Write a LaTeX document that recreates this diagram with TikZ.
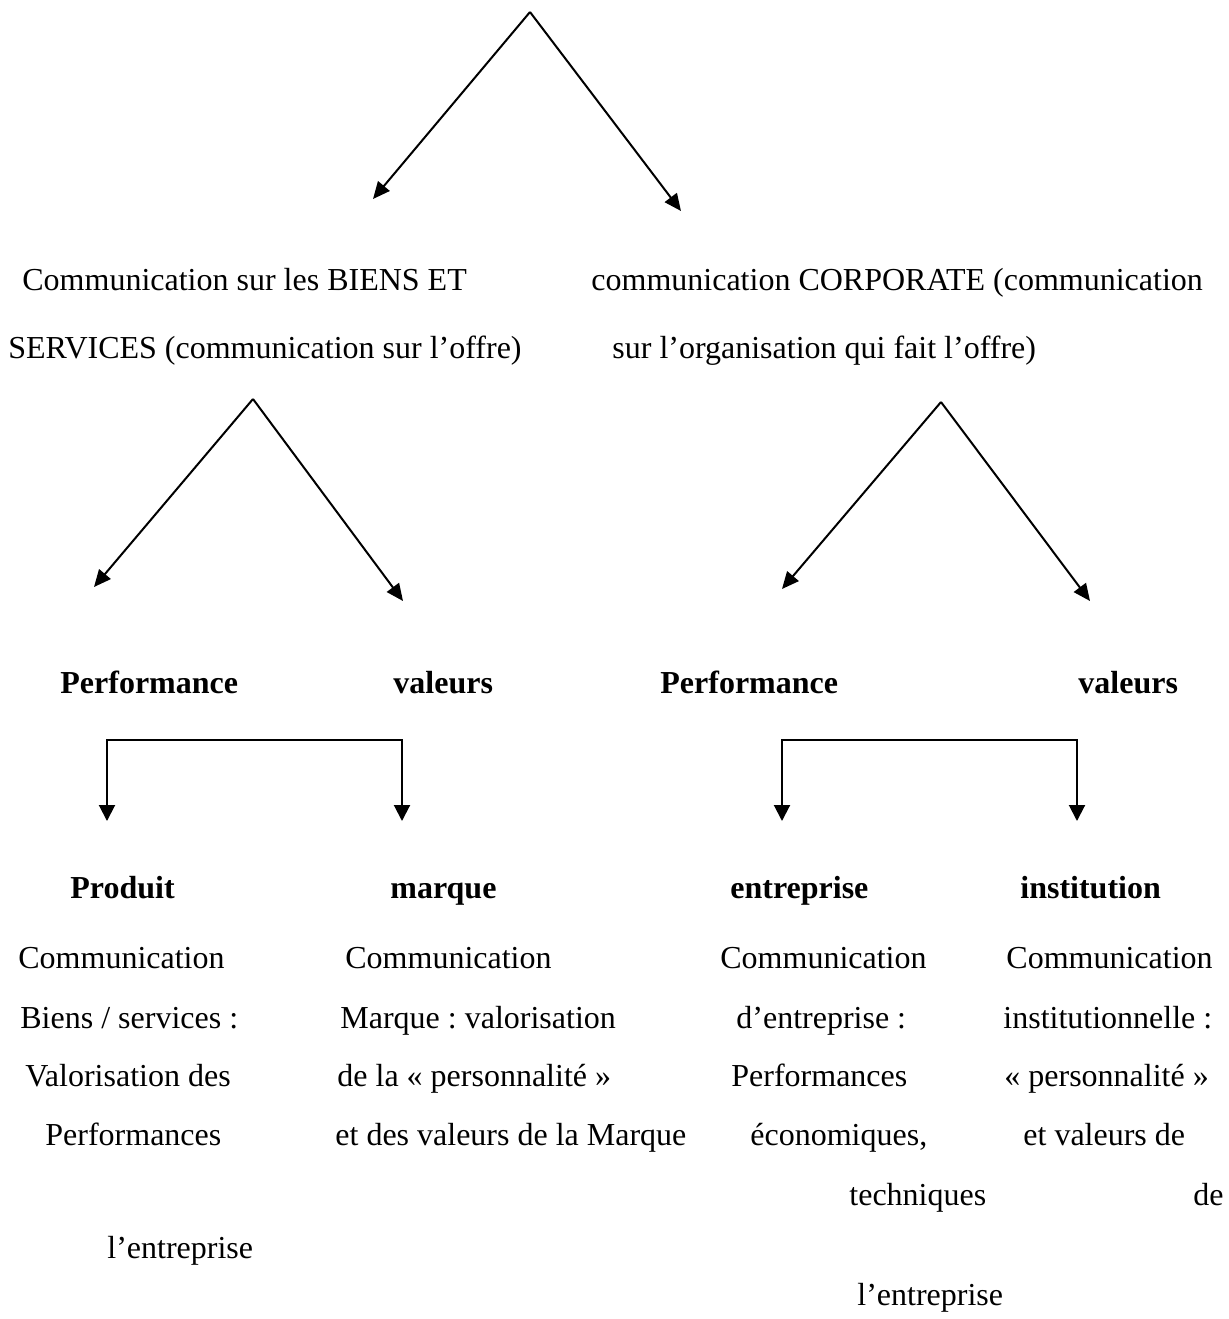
\documentclass[tikz,border=0pt]{standalone}
\usepackage{fontspec}
\setmainfont{Liberation Serif}
\usepackage{tikz}
\usetikzlibrary{arrows.meta}
\frenchspacing

\begin{document}
\begin{tikzpicture}[
   x=0.5pt, y=-0.5pt,
   txt/.style={anchor=base west, inner sep=0, font=\fontsize{16}{19}\selectfont},
   bld/.style={txt, font=\fontsize{16}{19}\selectfont\bfseries},
   arr/.style={-{Triangle[length=8.5pt, width=7.5pt]}, line width=1pt},
   barr/.style={{Triangle[length=8pt, width=8pt]}-{Triangle[length=8pt, width=8pt]}, line width=1pt}
  ]

  \useasboundingbox (0, 0) rectangle (1229, 1319);

  % Splits
  \coordinate (A0) at (530, 12);
  \coordinate (A1) at (373, 199);
  \coordinate (A2) at (681, 211);

  \coordinate (B0) at (253, 399);
  \coordinate (B1) at (94, 587);
  \coordinate (B2) at (403, 601);

  \coordinate (C0) at (941, 402);
  \coordinate (C1) at (782, 589);
  \coordinate (C2) at (1090, 601);

  \foreach \B/\E in {A0/A1, A0/A2, B0/B1, B0/B2, C0/C1, C0/C2} {
    \draw[arr] (\B) -- (\E);
  }

  % Level 1
  \node (T1) at (22, 290) [txt] {Communication sur les BIENS ET};
  \node (T2) at (8, 358) [txt] {SERVICES (communication sur l’offre)};
  \node (T3) at (591, 290) [txt] {communication CORPORATE (communication};
  \node (T4) at (612, 358) [txt] {sur l’organisation qui fait l’offre)};

  % Level 2
  \node (P1) at (60, 693) [bld] {Performance};
  \node (V1) at (393, 693) [bld] {valeurs};
  \node (P2) at (660, 693) [bld] {Performance};
  \node (V2) at (1078, 693) [bld] {valeurs};

  % Brackets
  \coordinate (D1) at (107, 821);
  \coordinate (D0) at (255, 740);
  \coordinate (D2) at (402, 821);
  \coordinate (E1) at (782, 821);
  \coordinate (E0) at (930, 740);
  \coordinate (E2) at (1077, 821);

  \draw[barr] (D1) |- (D0) -| (D2);
  \draw[barr] (E1) |- (E0) -| (E2);

  % Level 3
  \node (K1) at (70, 898) [bld] {Produit};
  \node (K2) at (390, 898) [bld] {marque};
  \node (K3) at (730, 898) [bld] {entreprise};
  \node (K4) at (1020, 898) [bld] {institution};

  % Descriptions
  \node (L1) at (18, 968) [txt] {Communication};
  \node (L2) at (20, 1028) [txt] {Biens / services :};
  \node (L3) at (25, 1086) [txt] {Valorisation des};
  \node (L4) at (45, 1145) [txt] {Performances};
  \node (L5) at (107, 1258) [txt] {l’entreprise};

  \node (M1) at (345, 968) [txt] {Communication};
  \node (M2) at (340, 1028) [txt] {Marque : valorisation};
  \node (M3) at (337, 1086) [txt] {de la « personnalité »};
  \node (M4) at (335, 1145) [txt] {et des valeurs de la Marque};

  \node (R1) at (720, 968) [txt] {Communication};
  \node (R2) at (736, 1028) [txt] {d’entreprise :};
  \node (R3) at (731, 1086) [txt] {Performances};
  \node (R4) at (750, 1145) [txt] {économiques,};
  \node (R5) at (849, 1205) [txt] {techniques};
  \node (R6) at (857, 1305) [txt] {l’entreprise};

  \node (S1) at (1006, 968) [txt] {Communication};
  \node (S2) at (1003, 1028) [txt] {institutionnelle :};
  \node (S3) at (1004, 1086) [txt] {« personnalité »};
  \node (S4) at (1023, 1145) [txt] {et valeurs de};
  \node (S5) at (1193, 1205) [txt] {de};

\end{tikzpicture}
\end{document}
